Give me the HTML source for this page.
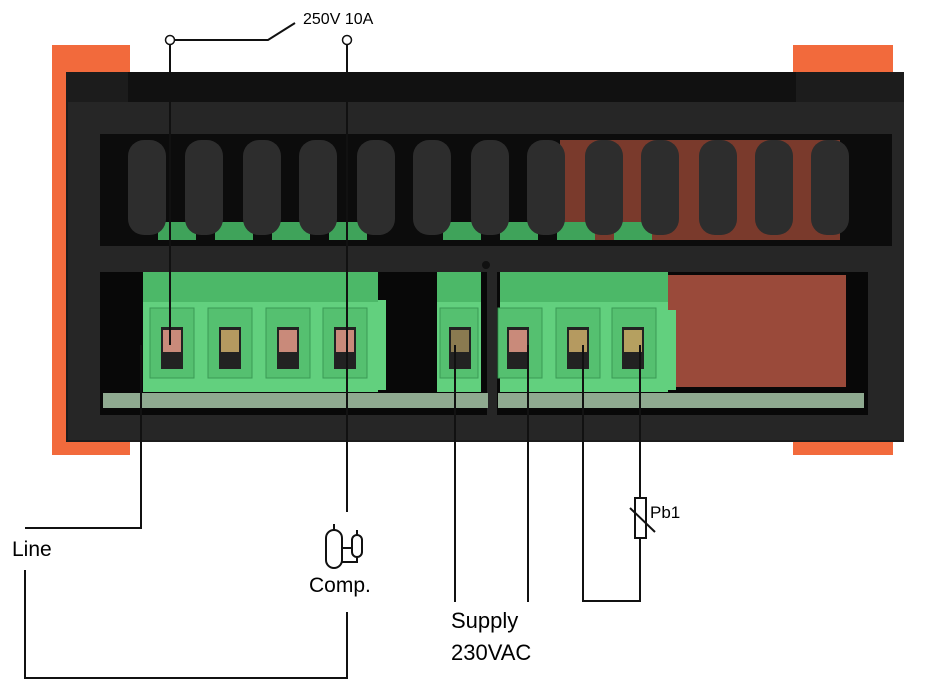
<!DOCTYPE html>
<html><head><meta charset="utf-8"><style>
body{margin:0;width:926px;height:690px;background:#fff;position:relative;overflow:hidden;font-family:"Liberation Sans",sans-serif}
.a{position:absolute}
</style></head><body>
<svg class="a" style="left:0;top:0" width="926" height="690" viewBox="0 0 926 690">
<!-- orange side pieces -->
<rect x="52" y="45" width="78" height="410" fill="#f26a3c"/>
<rect x="793" y="45" width="100" height="410" fill="#f26a3c"/>
<!-- body -->
<rect x="66" y="72" width="838" height="370" fill="#1c1c1c"/>
<rect x="128" y="72" width="668" height="30" fill="#111"/>
<rect x="68" y="102" width="836" height="338" fill="#262626"/>
<!-- upper window -->
<rect x="100" y="134" width="792" height="112" fill="#0c0c0c"/>
<rect x="560" y="140" width="280" height="100" fill="#7a3a2c"/>
<g fill="#3fa35a">
<rect x="158" y="222" width="38" height="18"/><rect x="215" y="222" width="38" height="18"/>
<rect x="272" y="222" width="38" height="18"/><rect x="329" y="222" width="38" height="18"/>
<rect x="443" y="222" width="38" height="18"/><rect x="500" y="222" width="38" height="18"/>
<rect x="557" y="222" width="38" height="18"/><rect x="614" y="222" width="38" height="18"/>
</g>
<g fill="#2d2d2d">
<rect x="128" y="140" width="38" height="95" rx="16"/><rect x="185" y="140" width="38" height="95" rx="16"/>
<rect x="243" y="140" width="38" height="95" rx="16"/><rect x="299" y="140" width="38" height="95" rx="16"/>
<rect x="357" y="140" width="38" height="95" rx="16"/><rect x="413" y="140" width="38" height="95" rx="16"/>
<rect x="471" y="140" width="38" height="95" rx="16"/><rect x="527" y="140" width="38" height="95" rx="16"/>
<rect x="585" y="140" width="38" height="95" rx="16"/><rect x="641" y="140" width="38" height="95" rx="16"/>
<rect x="699" y="140" width="38" height="95" rx="16"/><rect x="755" y="140" width="38" height="95" rx="16"/>
<rect x="811" y="140" width="38" height="95" rx="16"/>
</g>
<!-- lower window -->
<rect x="100" y="272" width="768" height="143" fill="#080808"/>
<rect x="487" y="268" width="10" height="150" fill="#262626"/>
<circle cx="486" cy="265" r="4" fill="#111"/>
<rect x="103" y="393" width="385" height="15" fill="#8faa90"/>
<rect x="498" y="393" width="366" height="15" fill="#8faa90"/>
<rect x="668" y="275" width="178" height="112" fill="#9a4a3a"/>
<g fill="#62d07e">
<rect x="143" y="272" width="235" height="120"/><rect x="378" y="300" width="8" height="90"/>
<rect x="437" y="272" width="44" height="120"/>
<rect x="500" y="272" width="168" height="120"/><rect x="668" y="310" width="8" height="80"/>
</g>
<g fill="#4cb868">
<rect x="143" y="272" width="235" height="30"/><rect x="437" y="272" width="44" height="30"/><rect x="500" y="272" width="168" height="30"/>
</g>
<g fill="#55c070" stroke="#3a9a55">
<rect x="150" y="308" width="44" height="70"/><rect x="208" y="308" width="44" height="70"/>
<rect x="266" y="308" width="44" height="70"/><rect x="323" y="308" width="44" height="70"/>
<rect x="440" y="308" width="38" height="70"/><rect x="498" y="308" width="44" height="70"/>
<rect x="556" y="308" width="44" height="70"/><rect x="612" y="308" width="44" height="70"/>
</g>
<g fill="#222">
<rect x="161" y="327" width="22" height="42"/><rect x="219" y="327" width="22" height="42"/>
<rect x="277" y="327" width="22" height="42"/><rect x="334" y="327" width="22" height="42"/>
<rect x="449" y="327" width="22" height="42"/><rect x="507" y="327" width="22" height="42"/>
<rect x="567" y="327" width="22" height="42"/><rect x="622" y="327" width="22" height="42"/>
</g>
<g fill="#c98a7a">
<rect x="163" y="330" width="18" height="22"/><rect x="221" y="330" width="18" height="22" fill="#b59a60"/>
<rect x="279" y="330" width="18" height="22"/><rect x="336" y="330" width="18" height="22"/>
<rect x="451" y="330" width="18" height="22" fill="#8a7a50"/><rect x="509" y="330" width="18" height="22"/>
<rect x="569" y="330" width="18" height="22" fill="#b59a60"/><rect x="624" y="330" width="18" height="22" fill="#b5a060"/>
</g>
<!-- wiring -->
<g stroke="#111" stroke-width="2" fill="none">
<line x1="170" y1="44" x2="170" y2="345"/>
<polyline points="174,40 268,40 295,23"/>
<line x1="347" y1="44" x2="347" y2="512"/>
<polyline points="141,345 141,528 25,528"/>
<polyline points="25,570 25,678 347,678 347,612"/>
<line x1="455" y1="345" x2="455" y2="602"/>
<line x1="528" y1="345" x2="528" y2="602"/>
<polyline points="583,345 583,601 640,601 640,538"/>
<line x1="640" y1="345" x2="640" y2="498"/>
<rect x="635" y="498" width="11" height="40" fill="#fff"/>
<line x1="630" y1="508" x2="655" y2="532"/>
<!-- compressor icon -->
<rect x="326" y="530" width="16" height="38" rx="8"/>
<line x1="334" y1="524" x2="334" y2="530"/>
<rect x="352" y="535" width="10" height="22" rx="5"/>
<line x1="357" y1="530" x2="357" y2="535"/>
<polyline points="342,548 352,548"/>
<polyline points="342,562 357,562 357,557"/>
</g>
<circle cx="170" cy="40" r="4.5" fill="#fff" stroke="#111" stroke-width="1.5"/>
<circle cx="347" cy="40" r="4.5" fill="#fff" stroke="#111" stroke-width="1.5"/>
</svg>
<div class="a" style="left:303px;top:11px;font-size:16px">250V 10A</div>
<div class="a" style="left:12px;top:538px;font-size:21px">Line</div>
<div class="a" style="left:309px;top:574px;font-size:21px">Comp.</div>
<div class="a" style="left:451px;top:608px;font-size:22px">Supply</div>
<div class="a" style="left:451px;top:640px;font-size:22px">230VAC</div>
<div class="a" style="left:650px;top:503px;font-size:17px">Pb1</div>
</body></html>
